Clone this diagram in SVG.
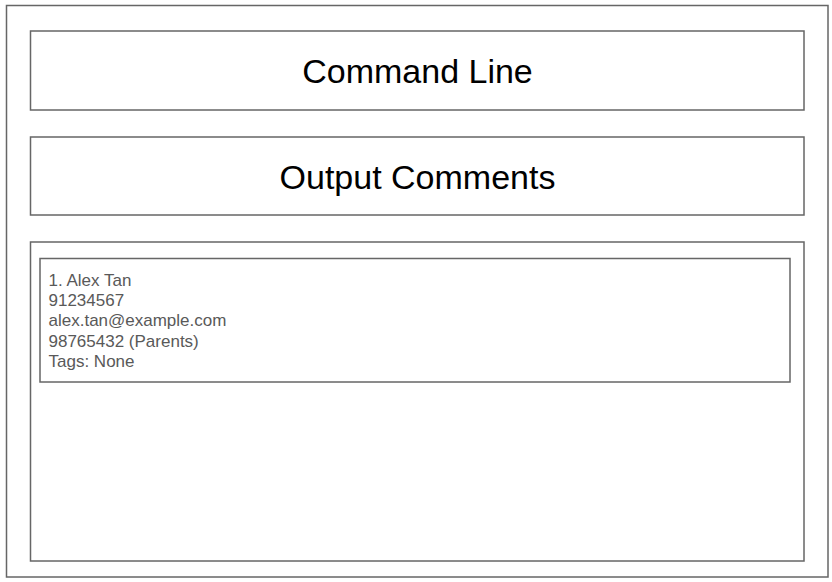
<svg xmlns="http://www.w3.org/2000/svg" width="832" height="582" viewBox="0 0 832 582">
<style>
.box{fill:#fff;stroke:#666;stroke-width:1.5}
.title{font-family:"Liberation Sans",Arial,sans-serif;font-size:34px;fill:#000;text-anchor:middle}
.card{font-family:"Liberation Sans",Arial,sans-serif;font-size:17px;fill:#595959}
</style>
<rect width="832" height="582" fill="#fff"/>
<g id="window">
<rect class="box" x="6.5" y="5.5" width="821.5" height="571.5"/>
</g>
<g id="command-line">
<rect class="box" x="30.5" y="31" width="773.5" height="79"/>
<text class="title" x="417.5" y="83">Command Line</text>
</g>
<g id="output-comments">
<rect class="box" x="30.5" y="137" width="773.5" height="78"/>
<text class="title" x="417.5" y="188.5">Output Comments</text>
</g>
<g id="list-panel">
<rect class="box" x="30.5" y="242" width="773.5" height="319"/>
</g>
<g id="person-card">
<rect class="box" x="40" y="258.5" width="750" height="123.5"/>
<text class="card" x="48.5" y="285.7">1. Alex Tan</text>
<text class="card" x="48.5" y="306">91234567</text>
<text class="card" x="48.5" y="326.3">alex.tan@example.com</text>
<text class="card" x="48.5" y="346.7">98765432 (Parents)</text>
<text class="card" x="48.5" y="367">Tags: None</text>
</g>
<g id="connectors"></g>
</svg>
